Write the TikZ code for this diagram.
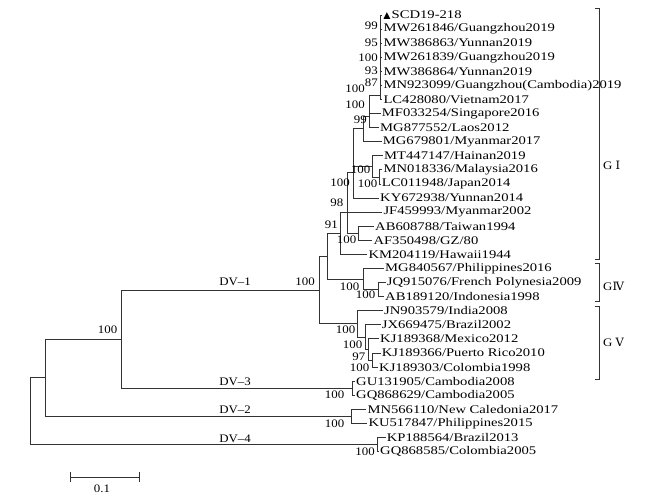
\documentclass[tikz,border=0pt]{standalone}
\usepackage{fontspec}
\setmainfont[FakeStretch=1.12]{Liberation Serif}
\newfontfamily\leaffam[FakeStretch=1.25]{Liberation Serif}
\newfontfamily\romfont{DejaVu Serif}
\newcommand\treefont{\fontsize{11.5}{13}\selectfont}
\newcommand\leaffont{\leaffam\fontsize{11.7}{13}\selectfont}
\begin{document}
\begin{tikzpicture}[x=1pt,y=-1pt,
  br/.style={draw=black!80, line width=0.8pt},
  leaf/.style={anchor=west, inner sep=1pt, font=\leaffont, text=black},
  bs/.style={anchor=east, inner sep=0.5pt, font=\treefont, text=black},
  dvlab/.style={anchor=base, inner sep=0pt, font=\treefont, text=black},
  grp/.style={anchor=west, inner sep=0pt, font=\treefont, text=black}]
\useasboundingbox (0,0) rectangle (650,496);

% ---------- leaves ----------
\node[leaf] (l0) at (382.3,15.00) {\tikz\fill[black] (0pt,0pt)--(6.7pt,0pt)--(3.35pt,6.6pt)--cycle;\hspace{1.5pt}SCD19-218};
\node[leaf] (l1) at (382.3,29.08) {MW261846/Guangzhou2019};
\node[leaf] (l2) at (382.3,43.16) {MW386863/Yunnan2019};
\node[leaf] (l3) at (382.3,57.24) {MW261839/Guangzhou2019};
\node[leaf] (l4) at (382.3,71.32) {MW386864/Yunnan2019};
\node[leaf] (l5) at (382.3,85.40) {MN923099/Guangzhou(Cambodia)2019};
\node[leaf] (l6) at (382.3,99.48) {LC428080/Vietnam2017};
\node[leaf] (l7) at (380.7,113.56) {MF033254/Singapore2016};
\node[leaf] (l8) at (379.0,127.64) {MG877552/Laos2012};
\node[leaf] (l9) at (381.7,141.72) {MG679801/Myanmar2017};
\node[leaf] (l10) at (383.0,155.80) {MT447147/Hainan2019};
\node[leaf] (l11) at (382.3,169.88) {MN018336/Malaysia2016};
\node[leaf] (l12) at (380.7,183.96) {LC011948/Japan2014};
\node[leaf] (l13) at (379.0,198.04) {KY672938/Yunnan2014};
\node[leaf] (l14) at (382.3,212.12) {JF459993/Myanmar2002};
\node[leaf] (l15) at (374.0,226.20) {AB608788/Taiwan1994};
\node[leaf] (l16) at (372.3,240.28) {AF350498/GZ/80};
\node[leaf] (l17) at (367.3,254.36) {KM204119/Hawaii1944};
\node[leaf] (l18) at (384.0,268.44) {MG840567/Philippines2016};
\node[leaf] (l19) at (385.7,282.52) {JQ915076/French Polynesia2009};
\node[leaf] (l20) at (384.0,296.60) {AB189120/Indonesia1998};
\node[leaf] (l21) at (383.0,310.68) {JN903579/India2008};
\node[leaf] (l22) at (380.7,324.76) {JX669475/Brazil2002};
\node[leaf] (l23) at (379.0,338.84) {KJ189368/Mexico2012};
\node[leaf] (l24) at (380.7,352.92) {KJ189366/Puerto Rico2010};
\node[leaf] (l25) at (378.0,367.00) {KJ189303/Colombia1998};
\node[leaf] (l26) at (355.0,381.08) {GU131905/Cambodia2008};
\node[leaf] (l27) at (355.0,395.16) {GQ868629/Cambodia2005};
\node[leaf] (l28) at (366.3,409.24) {MN566110/New Caledonia2017};
\node[leaf] (l29) at (367.3,423.32) {KU517847/Philippines2015};
\node[leaf] (l30) at (385.7,437.40) {KP188564/Brazil2013};
\node[leaf] (l31) at (379.0,451.48) {GQ868585/Colombia2005};

% ---------- internal nodes ----------
\coordinate (k1) at (380,22.04);
\coordinate (k2) at (380,32.60);
\coordinate (k3) at (380,44.92);
\coordinate (k4) at (380,58.12);
\coordinate (k5) at (380,71.76);
\coordinate (k6) at (380,95.00);
\coordinate (na) at (369.5,104.28);
\coordinate (nb) at (369.5,115.96);
\coordinate (nc) at (363,128.84);
\coordinate (nml) at (379.5,176.92);
\coordinate (nB) at (372,166.36);
\coordinate (nd1) at (353,147.60);
\coordinate (nd) at (353,172.82);
\coordinate (n97) at (347,192.47);
\coordinate (nAB) at (358,233.24);
\coordinate (n98) at (347,212.86);
\coordinate (n91) at (340,233.61);
\coordinate (nJA) at (378,289.56);
\coordinate (nG4) at (363,279.00);
\coordinate (n122) at (327,256.30);
\coordinate (nK2) at (372.5,359.96);
\coordinate (nK1) at (368,349.40);
\coordinate (nJ) at (365,337.08);
\coordinate (nG5) at (357.5,323.88);
\coordinate (nDV1) at (319.5,290.09);
\coordinate (nDV3) at (352,388.12);
\coordinate (n13) at (121,339.10);
\coordinate (nDV2) at (351,416.28);
\coordinate (n132) at (45,377.69);
\coordinate (nDV4) at (377,444.44);
\coordinate (root) at (30,411.07);

% ---------- branches ----------
\draw[br] (k1) |- (l0.west); \draw[br] (k1) |- (l1.west);
\draw[br] (k2) |- (k1); \draw[br] (k2) |- (l2.west);
\draw[br] (k3) |- (k2); \draw[br] (k3) |- (l3.west);
\draw[br] (k4) |- (k3); \draw[br] (k4) |- (l4.west);
\draw[br] (k5) |- (k4); \draw[br] (k5) |- (l5.west);
\draw[br] (k6) |- (k5); \draw[br] (k6) |- (l6.west);
\draw[br] (na) |- (k6); \draw[br] (na) |- (l7.west);
\draw[br] (nb) |- (na); \draw[br] (nb) |- (l8.west);
\draw[br] (nc) |- (nb); \draw[br] (nc) |- (l9.west);
\draw[br] (nml) |- (l11.west); \draw[br] (nml) |- (l12.west);
\draw[br] (nB) |- (l10.west); \draw[br] (nB) |- (nml);
\draw[br] (nd1) |- (nc); \draw[br] (nd1) |- (nB);
\draw[br] (nd) |- (nd1); \draw[br] (nd) |- (l13.west);
\draw[br] (n97) |- (nd); \draw[br] (n97) |- (l14.west);
\draw[br] (nAB) |- (l15.west); \draw[br] (nAB) |- (l16.west);
\draw[br] (n98) |- (n97); \draw[br] (n98) |- (nAB);
\draw[br] (n91) |- (n98); \draw[br] (n91) |- (l17.west);
\draw[br] (nJA) |- (l19.west); \draw[br] (nJA) |- (l20.west);
\draw[br] (nG4) |- (l18.west); \draw[br] (nG4) |- (nJA);
\draw[br] (n122) |- (n91); \draw[br] (n122) |- (nG4);
\draw[br] (nK2) |- (l24.west); \draw[br] (nK2) |- (l25.west);
\draw[br] (nK1) |- (l23.west); \draw[br] (nK1) |- (nK2);
\draw[br] (nJ) |- (l22.west); \draw[br] (nJ) |- (nK1);
\draw[br] (nG5) |- (l21.west); \draw[br] (nG5) |- (nJ);
\draw[br] (nDV1) |- (n122); \draw[br] (nDV1) |- (nG5);
\draw[br] (nDV3) |- (l26.west); \draw[br] (nDV3) |- (l27.west);
\draw[br] (n13) |- (nDV1); \draw[br] (n13) |- (nDV3);
\draw[br] (nDV2) |- (l28.west); \draw[br] (nDV2) |- (l29.west);
\draw[br] (n132) |- (n13); \draw[br] (n132) |- (nDV2);
\draw[br] (nDV4) |- (l30.west); \draw[br] (nDV4) |- (l31.west);
\draw[br] (root) |- (n132); \draw[br] (root) |- (nDV4);

% ---------- bootstrap values ----------
\node[bs] (b1) at (378.5,25.5) {99};
\node[bs] (b2) at (378.5,43.0) {95};
\node[bs] (b3) at (378.5,57.5) {100};
\node[bs] (b4) at (378.5,70.5) {93};
\node[bs] (b5) at (378.5,82.5) {87};
\node[bs] (b6) at (365.5,89.0) {100};
\node[bs] (b7) at (365.5,105.0) {100};
\node[bs] (b8) at (367.5,119.5) {99};
\node[bs] (b9) at (371.0,170.0) {100};
\node[bs] (b10) at (378.0,184.0) {100};
\node[bs] (b11) at (350.5,183.0) {100};
\node[bs] (b12) at (344.0,203.0) {98};
\node[bs] (b13) at (338.5,225.0) {91};
\node[bs] (b14) at (357.0,240.0) {100};
\node[bs] (b15) at (360.0,287.0) {100};
\node[bs] (b16) at (376.0,295.0) {100};
\node[bs] (b17) at (315.5,282.0) {100};
\node[bs] (b18) at (356.0,330.0) {100};
\node[bs] (b19) at (363.0,344.5) {100};
\node[bs] (b20) at (366.0,356.5) {97};
\node[bs] (b21) at (370.0,367.5) {100};
\node[bs] (b22) at (345.0,395.0) {100};
\node[bs] (b23) at (118.0,330.0) {100};
\node[bs] (b24) at (345.0,424.0) {100};
\node[bs] (b25) at (375.5,452.0) {100};

% ---------- serotype labels ----------
\node[dvlab] (dv1) at (235,285.5) {DV--1};
\node[dvlab] (dv3) at (235,385.5) {DV--3};
\node[dvlab] (dv2) at (235,413.8) {DV--2};
\node[dvlab] (dv4) at (235,442.0) {DV--4};

% ---------- genotype brackets ----------
\coordinate (g1t) at (599.3,8.3);  \coordinate (g1b) at (599.3,259.0);
\coordinate (g4t) at (599.3,263.3); \coordinate (g4b) at (599.3,301.7);
\coordinate (g5t) at (599.3,306.0); \coordinate (g5b) at (599.3,379.3);
\draw[br] ([xshift=-4.5pt]g1t) -- (g1t) -- (g1b) -- ([xshift=-4.5pt]g1b);
\draw[br] ([xshift=-4.5pt]g4t) -- (g4t) -- (g4b) -- ([xshift=-4.5pt]g4b);
\draw[br] ([xshift=-4.5pt]g5t) -- (g5t) -- (g5b) -- ([xshift=-4.5pt]g5b);
\node[grp] (gI) at (603,165) {G {\romfont Ⅰ}};
\node[grp] (gIV) at (603,286.5) {G{\romfont Ⅳ}};
\node[grp] (gV) at (603,342) {G {\romfont Ⅴ}};

% ---------- scale bar ----------
\coordinate (sb1) at (70,477); \coordinate (sb2) at (139,477);
\draw[br] (sb1) -- (sb2);
\draw[br] ([yshift=-5pt]sb1) -- ([yshift=5pt]sb1);
\draw[br] ([yshift=-5pt]sb2) -- ([yshift=5pt]sb2);
\node[font=\treefont, text=black, inner sep=0pt] (sbl) at (102,488.5) {0.1};
\end{tikzpicture}
\end{document}
